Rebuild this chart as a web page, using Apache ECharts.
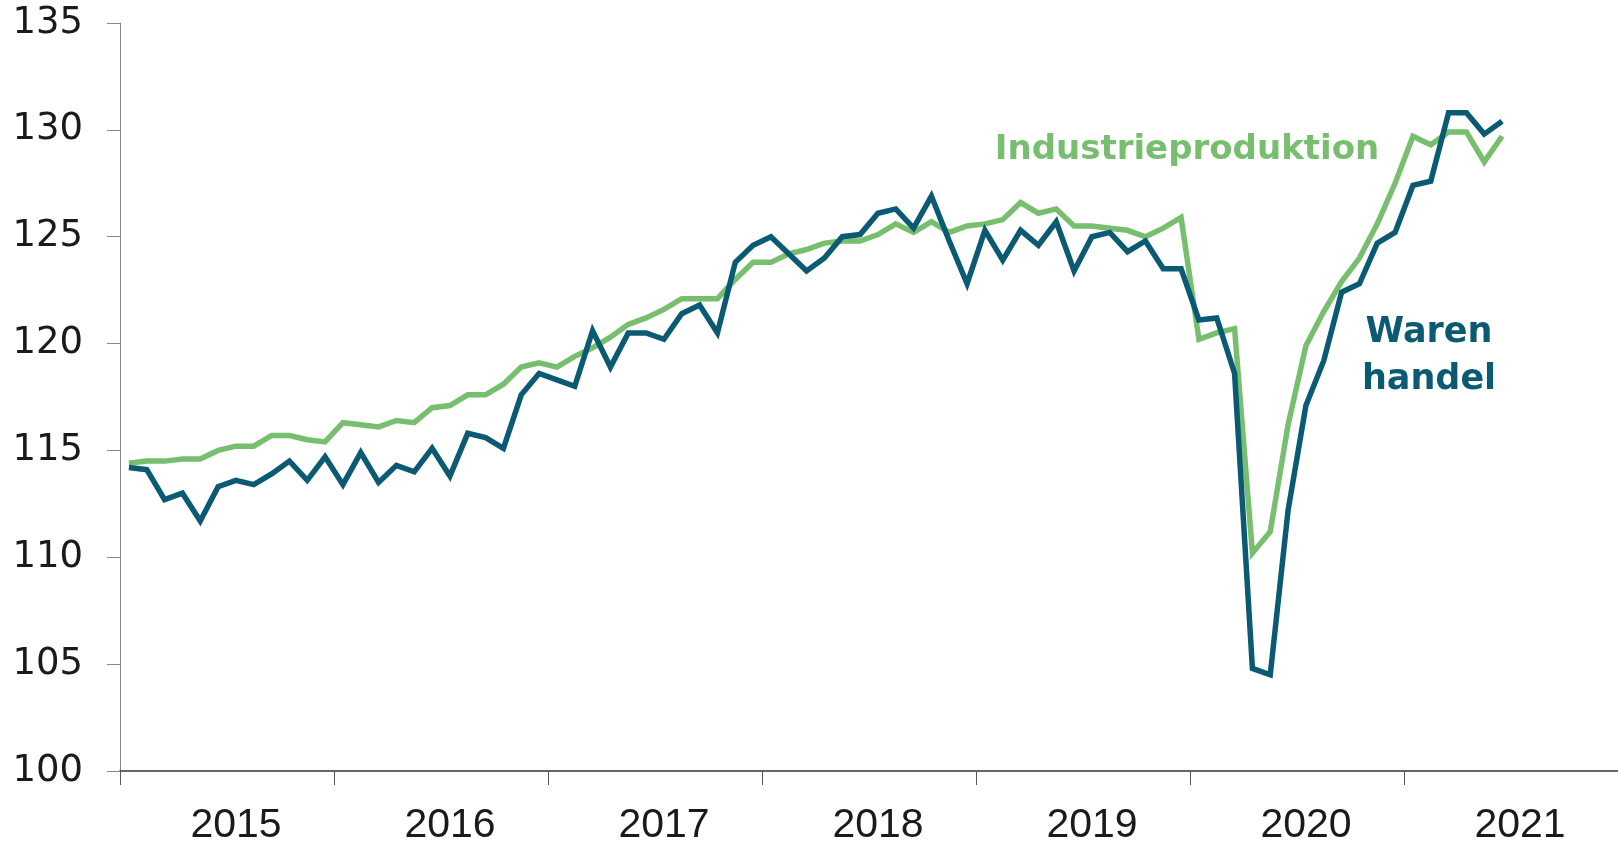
<!DOCTYPE html>
<html>
<head>
<meta charset="utf-8">
<script src="https://cdn.jsdelivr.net/npm/echarts@6/dist/echarts.min.js"></script>
<style>html,body{margin:0;padding:0;background:#fff;}#c{width:1618px;height:846px;}</style>
</head>
<body>
<div id="c"></div>
<script>
const years = ['2015','2016','2017','2018','2019','2020','2021'];
const yTicks = [100,105,110,115,120,125,130,135];
const warenhandel = [114.2,114.1,112.7,113.0,111.7,113.3,113.6,113.4,113.9,114.5,113.6,114.7,
  113.4,114.9,113.5,114.3,114.0,115.1,113.8,115.8,115.6,115.1,117.6,118.6,
  118.3,118.0,120.6,118.9,120.5,120.5,120.2,121.4,121.8,120.5,123.8,124.6,
  125.0,124.2,123.4,124.0,125.0,125.1,126.1,126.3,125.4,126.9,124.8,122.8,
  125.3,123.9,125.3,124.6,125.7,123.4,125.0,125.2,124.3,124.8,123.5,123.5,
  121.1,121.2,118.6,104.8,104.5,112.2,117.1,119.2,122.4,122.8,124.7,125.2,
  127.4,127.6,130.8,130.8,129.8,130.4];
const industrieproduktion = [114.4,114.5,114.5,114.6,114.6,115.0,115.2,115.2,115.7,115.7,115.5,115.4,
  116.3,116.2,116.1,116.4,116.3,117.0,117.1,117.6,117.6,118.1,118.9,119.1,
  118.9,119.4,119.8,120.3,120.9,121.2,121.6,122.1,122.1,122.1,123.0,123.8,
  123.8,124.2,124.4,124.7,124.8,124.8,125.1,125.6,125.2,125.7,125.2,125.5,
  125.6,125.8,126.6,126.1,126.3,125.5,125.5,125.4,125.3,125.0,125.4,125.9,
  120.2,120.5,120.7,110.2,111.2,116.2,119.9,121.5,122.9,124.0,125.6,127.5,
  129.7,129.3,129.9,129.9,128.5,129.7];

const months = [];
years.forEach(y => { for (let m = 1; m <= 12; m++) months.push(y + '-' + (m < 10 ? '0' + m : m)); });

const chart = echarts.init(document.getElementById('c'));
chart.setOption({
  animation: false,
  backgroundColor: '#ffffff',
  grid: {left: 120, right: 0, top: 23, bottom: 74, containLabel: false},
  xAxis: [{
    type: 'category',
    data: months,
    boundaryGap: true,
    axisLine: {show: true, lineStyle: {color: '#333333', width: 1.5}},
    axisTick: {show: true, length: 14, interval: function (i) { return i % 12 === 0; }, lineStyle: {color: '#555555', width: 1}},
    axisLabel: {show: false},
    splitLine: {show: false}
  }, {
    type: 'category',
    data: years,
    position: 'bottom',
    boundaryGap: true,
    axisLine: {show: false},
    axisTick: {show: false},
    axisLabel: {show: true, margin: 34, fontFamily: 'Liberation Sans', fontSize: 41, color: '#1a1a1a', padding: [0, 0, 0, 18]},
    splitLine: {show: false}
  }],
  yAxis: {
    type: 'value',
    min: 100, max: 135, interval: 5,
    axisLine: {show: true, lineStyle: {color: '#888888', width: 1}},
    axisTick: {show: true, length: 13, lineStyle: {color: '#888888', width: 1}},
    axisLabel: {margin: 37, fontFamily: 'DejaVu Sans', fontSize: 37, color: '#1a1a1a',
      formatter: v => (yTicks.indexOf(v) >= 0 ? String(v) : '')},
    splitLine: {show: false}
  },
  series: [{
    name: 'Industrieproduktion',
    type: 'line',
    data: industrieproduktion,
    xAxisIndex: 0,
    symbol: 'none',
    lineStyle: {color: '#77bf6f', width: 5.5, join: 'miter'},
    z: 2
  }, {
    name: 'Warenhandel',
    type: 'line',
    data: warenhandel,
    xAxisIndex: 0,
    symbol: 'none',
    lineStyle: {color: '#0b5a73', width: 5.5, join: 'miter'},
    z: 3
  }],
  graphic: [{
    type: 'text', x: 1187, y: 150,
    style: {text: 'Industrieproduktion', fontFamily: 'DejaVu Sans', fontWeight: 'bold', fontSize: 34,
      fill: '#77bf6f', align: 'center', verticalAlign: 'middle'}
  }, {
    type: 'text', x: 1429, y: 356,
    style: {text: 'Waren\nhandel', fontFamily: 'DejaVu Sans', fontWeight: 'bold', fontSize: 35, lineHeight: 47,
      fill: '#0b5a73', align: 'center', verticalAlign: 'middle'}
  }]
});
</script>
</body>
</html>
